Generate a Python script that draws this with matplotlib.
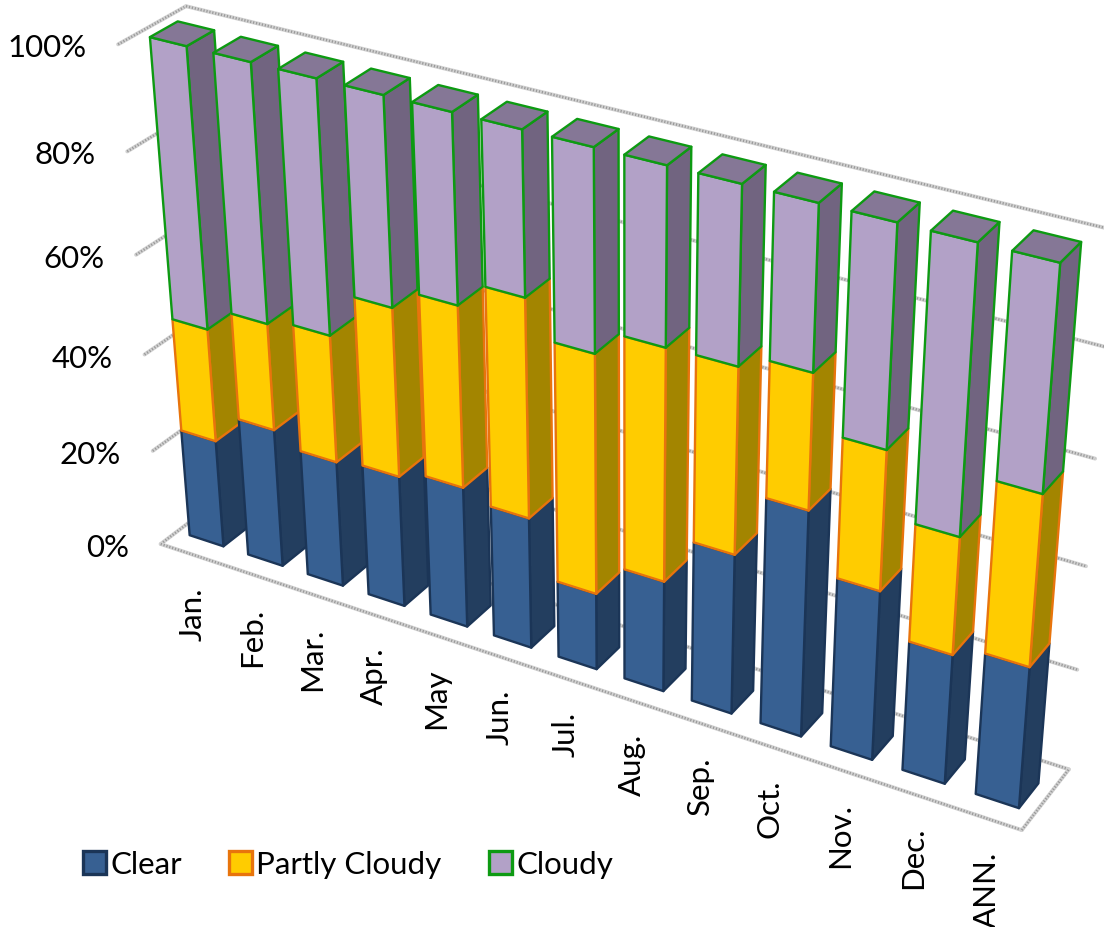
import numpy as np
import matplotlib
matplotlib.use("Agg")
import matplotlib.pyplot as plt
from matplotlib.patches import Polygon, Patch

months = ["Jan.", "Feb.", "Mar.", "Apr.", "May", "Jun.", "Jul.", "Aug.", "Sep.", "Oct.", "Nov.", "Dec.", "ANN."]
clear = [22.5, 28.7, 26.0, 27.0, 28.8, 26.7, 15.6, 22.4, 32.0, 44.7, 33.5, 25.6, 27.8]
partly = [23.0, 21.5, 25.5, 33.5, 35.7, 42.8, 47.0, 45.0, 35.6, 25.5, 26.5, 22.4, 32.2]
cloudy = [54.5, 49.8, 48.5, 39.5, 35.5, 30.5, 37.4, 32.6, 32.4, 29.8, 40.0, 52.0, 40.0]
pct_ticks = [0, 20, 40, 60, 80, 100]

# front, side, top and edge colours of each series
styles = [
    ("Clear", clear, "#376092", "#233E5F", "#2B4A70", "#1B3557"),
    ("Partly Cloudy", partly, "#FFCC00", "#A38500", "#C9A000", "#E8740C"),
    ("Cloudy", cloudy, "#B2A1C7", "#716480", "#857796", "#0D9A12"),
]

n = len(months)
bar_lo, bar_hi = 0.21, 0.79  # share of a category slot
depth_lo, depth_hi = 0.27, 0.68
j0, j1 = bar_lo/n, bar_hi/n
a0, a1 = (n - 1 + bar_lo)/n, (n - 1 + bar_hi)/n

# camera: box and first/last bar corners (category, value, depth) and where they land on the canvas
box_pts = np.array([
    [0, 0, 0], [1, 0, 0], [1, 0, 1], [0, 0, 1], [0, 1, 1], [1, 1, 1], [0, 1, 0],
    [0, .2, 0], [0, .6, 0], [0, .8, 0], [1, .2, 1], [1, .4, 1], [1, .6, 1],
    [j0, 0, depth_lo], [j1, 0, depth_lo], [j1, 0, depth_hi], [j0, 1, depth_lo], [j1, 1, depth_lo], [j1, 1, depth_hi],
    [a0, 0, depth_lo], [a1, 0, depth_lo], [a1, 0, depth_hi], [a0, 1, depth_lo], [a1, 1, depth_lo], [a1, 1, depth_hi],
])
canvas_pts = np.array([
    [160, 545], [1021, 832], [1068, 772], [222, 497], [185, 7], [1113, 232], [117, 47],
    [152, 452], [135, 257], [125, 155], [1078, 672], [1087, 568], [1093, 460],
    [191, 535], [225, 546], [247, 530], [152, 37], [188, 46], [216, 30],
    [977, 795], [1018, 807], [1040, 783], [1013, 252], [1061, 262], [1081, 242],
])
rows, rhs = [], []
for (a, b, c), (px, py) in zip(box_pts, canvas_pts):
    rows.append([a, b, c, 1, 0, 0, 0, 0, -px*a, -px*b, -px*c])
    rows.append([0, 0, 0, 0, a, b, c, 1, -py*a, -py*b, -py*c])
    rhs += [px, py]
cam = np.append(np.linalg.lstsq(np.array(rows, float), np.array(rhs, float), rcond=None)[0], 1).reshape(3, 4)


def project(u, v, w):
    p = cam @ np.array([u, v, w, 1.0])
    return p[0]/p[2], p[1]/p[2]


plt.rcParams["font.family"] = ["Lato", "DejaVu Sans"]
fig = plt.figure(figsize=(11.04, 9.28), dpi=100)
ax = fig.add_axes([0, 0, 1, 1])
ax.set_xlim(0, 1104)
ax.set_ylim(928, 0)
ax.axis("off")


def frame_line(p0, p1):
    xs, ys = zip(project(*p0), project(*p1))
    ax.plot(xs, ys, color="#D2D2D2", lw=2.8, zorder=1, solid_capstyle="round")
    ax.plot(xs, ys, color="#9A9A9A", lw=1.8, ls=(0, (0.5, 0.7)), zorder=1)


# gridlines on the back and left walls
for t in pct_ticks:
    v = t/100
    frame_line((0, v, 0), (0, v, 1))
    frame_line((0, v, 1), (1, v, 1))
    ax.text(project(0, v, 0)[0] - 32, project(0, v, 0)[1] + 3, f"{t}%", ha="right", va="center", fontsize=22.5)
# floor outline
frame_line((0, 0, 0), (1, 0, 0))
frame_line((1, 0, 0), (1, 0, 1))

# bars, left to right so each front face covers the neighbour's side
z = 2
for i in range(n):
    u0, u1 = (i + bar_lo)/n, (i + bar_hi)/n
    base = 0.0
    for k, (name, vals, front, side, top, edge) in enumerate(styles):
        v0, v1 = base/100, (base + vals[i])/100
        base += vals[i]
        faces = [
            ([(u1, v0, depth_lo), (u1, v0, depth_hi), (u1, v1, depth_hi), (u1, v1, depth_lo)], side),
            ([(u0, v0, depth_lo), (u1, v0, depth_lo), (u1, v1, depth_lo), (u0, v1, depth_lo)], front),
        ]
        if k == len(styles) - 1:
            faces.append(([(u0, v1, depth_lo), (u1, v1, depth_lo), (u1, v1, depth_hi), (u0, v1, depth_hi)], top))
        for corners, fc in faces:
            ax.add_patch(Polygon([project(*c) for c in corners], closed=True, facecolor=fc,
                                 edgecolor=edge, lw=1.7, joinstyle="round", zorder=z))
            z += 1
    lx, ly = project((i + 0.5)/n, 0, 0)
    ax.text(lx + 3, ly + 33, months[i], rotation=90, ha="center", va="top", fontsize=22.5, zorder=1)

handles = [Patch(facecolor=s[2], edgecolor=s[5], lw=2.4, label=s[0]) for s in styles]
ax.legend(handles=handles, ncol=3, loc="lower left", bbox_to_anchor=(83, 879), bbox_transform=ax.transData,
          frameon=False, fontsize=22.5, handlelength=0.75, handleheight=0.75, handletextpad=0.13,
          columnspacing=1.5, borderpad=0, borderaxespad=0)
fig.savefig("out.png", dpi=100)
